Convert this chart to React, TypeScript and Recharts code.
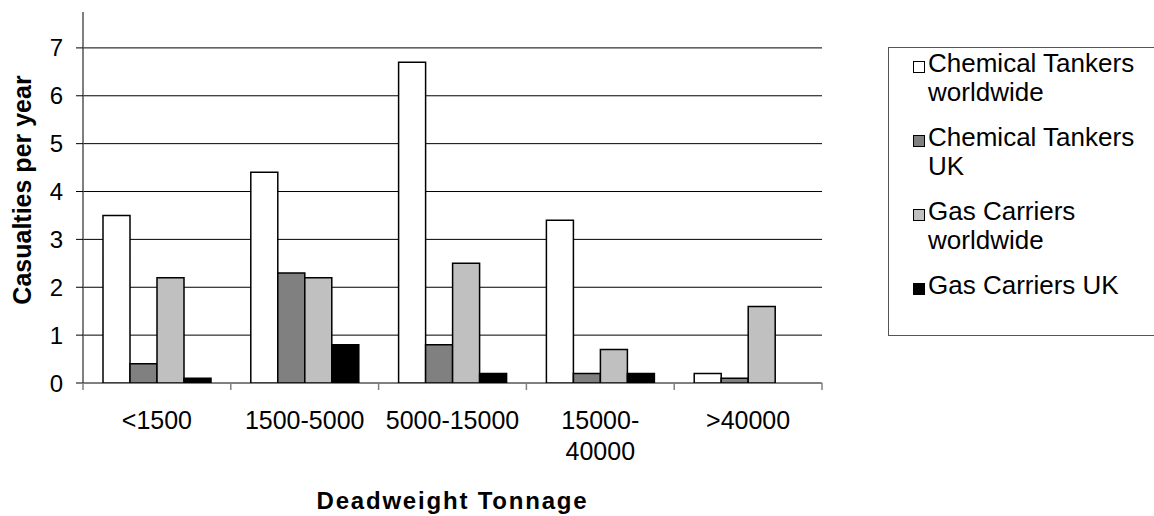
import { Bar, BarChart, CartesianGrid, Label, Legend, XAxis, YAxis } from "recharts"

const categories = ["<1500", "1500-5000", "5000-15000", "15000-40000", ">40000"]
const chemWorld = [3.5, 4.4, 6.7, 3.4, 0.2]
const chemUK = [0.4, 2.3, 0.8, 0.2, 0.1]
const gasWorld = [2.2, 2.2, 2.5, 0.7, 1.6]
const gasUK = [0.1, 0.8, 0.2, 0.2, 0]
const yTicks = [0, 1, 2, 3, 4, 5, 6, 7]

const data = categories.map((name, i) => ({
  name,
  chemWorld: chemWorld[i],
  chemUK: chemUK[i],
  gasWorld: gasWorld[i],
  gasUK: gasUK[i],
}))

const font = "'Liberation Sans', Arial, sans-serif"

const seriesOrder = ["chemWorld", "chemUK", "gasWorld", "gasUK"]
const colors: Record<string, string> = {
  chemWorld: "#ffffff",
  chemUK: "#808080",
  gasWorld: "#c0c0c0",
  gasUK: "#000000",
}

// label under the band centre, tick marks on the band edges (Excel style);
// long labels break after the hyphen
function CategoryTick(props: any) {
  const { x, y, payload, width, visibleTicksCount, index } = props
  const label = String(payload.value)
  const cut = label.indexOf("-") + 1
  const lines = label.length > 10 ? [label.slice(0, cut), label.slice(cut)] : [label]
  const half = width && visibleTicksCount ? width / visibleTicksCount / 2 : 0
  const edges = half ? (index === visibleTicksCount - 1 ? [x - half, x + half] : [x - half]) : []
  return (
    <g>
      {edges.map((ex, i) => (
        <line key={i} x1={ex} x2={ex} y1={y} y2={y + 7} stroke="#808080" strokeWidth={1.5} />
      ))}
      <text x={x} y={y} textAnchor="middle" fontSize={25} fontFamily={font} fill="#000">
        {lines.map((line, i) => (
          <tspan key={i} x={x} dy={i === 0 ? 46 : 31}>
            {line}
          </tspan>
        ))}
      </text>
    </g>
  )
}

function XTitle(props: any) {
  const vb = props.viewBox || { x: 83, y: 383, width: 739 }
  return (
    <text
      x={vb.x + vb.width / 2}
      y={vb.y + 126}
      textAnchor="middle"
      fontSize={24}
      fontWeight="bold"
      letterSpacing={1.8}
      fontFamily={font}
      fill="#000"
    >
      Deadweight Tonnage
    </text>
  )
}

function YTitle(props: any) {
  const vb = props.viewBox || { x: 0 }
  const cx = vb.x + 22
  const cy = 190
  return (
    <text
      x={cx}
      y={cy}
      transform={`rotate(-90 ${cx} ${cy})`}
      textAnchor="middle"
      dominantBaseline="central"
      fontSize={25}
      fontWeight="bold"
      fontFamily={font}
      fill="#000"
    >
      Casualties per year
    </text>
  )
}

function LegendBox(props: any) {
  const payload = [...(props.payload || [])].sort(
    (a: any, b: any) => seriesOrder.indexOf(a.dataKey) - seriesOrder.indexOf(b.dataKey)
  )
  return (
    <div
      style={{
        width: 290,
        height: 289,
        boxSizing: "border-box",
        border: "1px solid #555",
        background: "#fff",
        paddingLeft: 24,
        paddingTop: 1,
        fontFamily: font,
        fontSize: 26,
        lineHeight: "29px",
        color: "#000",
        textAlign: "left",
      }}
    >
      {payload.map((entry: any) => (
        <div key={entry.value} style={{ display: "flex", alignItems: "flex-start", marginBottom: 16 }}>
          <span
            style={{
              width: 12,
              height: 12,
              marginTop: 12,
              marginRight: 3,
              border: "1px solid #000",
              boxSizing: "border-box",
              background: colors[entry.dataKey] || entry.color,
              flex: "none",
            }}
          />
          <span style={{ width: 222 }}>{entry.value}</span>
        </div>
      ))}
    </div>
  )
}

export default function App() {
  return (
    <div style={{ position: "absolute", left: 0, top: 0, width: 1154, height: 516, overflow: "hidden", background: "#fff" }}>
      <BarChart
        width={1154}
        height={516}
        data={data}
        margin={{ top: 12, right: 332, bottom: 0, left: 0 }}
        barCategoryGap={20}
        barGap={0}
      >
        <CartesianGrid vertical={false} stroke="#000" strokeWidth={1} syncWithTicks />
        <XAxis
          dataKey="name"
          interval={0}
          tick={<CategoryTick />}
          tickLine={false}
          axisLine={false}
          tickSize={0}
          tickMargin={0}
          height={133}
        >
          <Label content={<XTitle />} />
        </XAxis>
        <YAxis
          domain={[0, 7.75]}
          ticks={yTicks}
          allowDataOverflow
          width={83}
          tickSize={7}
          tickMargin={13}
          axisLine={{ stroke: "#555", strokeWidth: 1.5 }}
          tickLine={{ stroke: "#000" }}
          tick={{ fontSize: 24, fill: "#000", fontFamily: font }}
        >
          <Label content={<YTitle />} />
        </YAxis>
        <Legend
          layout="vertical"
          align="center"
          verticalAlign="middle"
          content={<LegendBox />}
          wrapperStyle={{ left: 888, top: 47, width: 290, height: 289 }}
        />
        <Bar dataKey="chemWorld" name="Chemical Tankers worldwide" fill={colors.chemWorld} stroke="#000" strokeWidth={1.5} isAnimationActive={false} />
        <Bar dataKey="chemUK" name="Chemical Tankers UK" fill={colors.chemUK} stroke="#000" strokeWidth={1.5} isAnimationActive={false} />
        <Bar dataKey="gasWorld" name="Gas Carriers worldwide" fill={colors.gasWorld} stroke="#000" strokeWidth={1.5} isAnimationActive={false} />
        <Bar dataKey="gasUK" name="Gas Carriers UK" fill={colors.gasUK} stroke="#000" strokeWidth={1.5} isAnimationActive={false} />
      </BarChart>
    </div>
  )
}
